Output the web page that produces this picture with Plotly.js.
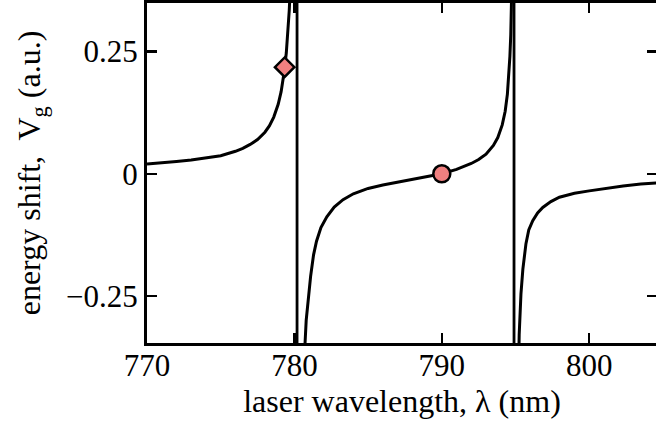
<!DOCTYPE html>
<html>
<head>
<meta charset="utf-8">
<script src="https://cdn.plot.ly/plotly-3.0.1.min.js"></script>
<style>
html, body { margin: 0; padding: 0; overflow: hidden; background: #fff; }
#chart { width: 657px; height: 421px; }
</style>
</head>
<body>
<div id="chart"></div>
<script>
// Branch below the D2 resonance (blue detuned)
const lambdaLeft = [770, 771, 772, 773, 774, 775, 776, 776.5, 777, 777.5, 778, 778.3, 778.6, 778.9, 779.1, 779.3, 779.45, 779.55, 779.65, 779.72, 779.8];
const shiftLeft  = [0.020, 0.022, 0.025, 0.028, 0.032, 0.037, 0.046, 0.052, 0.060, 0.070, 0.085, 0.098, 0.116, 0.142, 0.168, 0.207, 0.247, 0.284, 0.334, 0.380, 0.450];

// Branch between the D2 and D1 resonances
const lambdaMid = [780.5, 780.6, 780.7, 780.8, 780.97, 781.1, 781.3, 781.5, 781.8, 782.2, 782.7, 783.3, 784, 785, 786, 787, 788, 789, 790, 791, 791.5, 792, 792.5, 793, 793.5, 793.8, 794.1, 794.3, 794.45, 794.55, 794.62, 794.68, 794.72, 794.76];
const shiftMid  = [-0.700, -0.480, -0.360, -0.300, -0.246, -0.210, -0.166, -0.138, -0.110, -0.088, -0.068, -0.053, -0.041, -0.030, -0.023, -0.017, -0.011, -0.006, 0.000, 0.009, 0.015, 0.021, 0.029, 0.040, 0.058, 0.074, 0.100, 0.128, 0.163, 0.200, 0.240, 0.285, 0.330, 0.400];

// Branch above the D1 resonance (red detuned)
const lambdaRight = [795.15, 795.2, 795.25, 795.37, 795.5, 795.71, 795.9, 796.17, 796.5, 796.85, 797.4, 797.98, 799, 800, 801, 802.3, 803.5, 805];
const shiftRight  = [-0.500, -0.380, -0.330, -0.246, -0.195, -0.143, -0.115, -0.096, -0.080, -0.069, -0.057, -0.048, -0.040, -0.035, -0.030, -0.025, -0.021, -0.018];

// Resonance lines (D2, D1)
const resonanceLambda = [780.18, 794.9];

// Highlighted points
const diamondLambda = [779.34];
const diamondShift  = [0.218];
const circleLambda  = [790];
const circleShift   = [0.0];

// Ticks
const xTickVals = [770, 780, 790, 800];
const xTickText = ['770', '780', '790', '800'];
const yTickVals = [-0.25, 0, 0.25];
const yTickText = ['\u22120.25', '0', '0.25'];

const FONT = 'Liberation Serif, Times New Roman, serif';
const lineStyle = { color: '#000', width: 3 };

const traces = [
  { x: lambdaLeft, y: shiftLeft, mode: 'lines', line: lineStyle, hoverinfo: 'skip' },
  { x: lambdaMid, y: shiftMid, mode: 'lines', line: lineStyle, hoverinfo: 'skip' },
  { x: lambdaRight, y: shiftRight, mode: 'lines', line: lineStyle, hoverinfo: 'skip' },
  { x: diamondLambda, y: diamondShift, mode: 'markers',
    marker: { symbol: 'diamond', size: 15, color: '#F08080', line: { color: '#000', width: 2.5 } } },
  { x: circleLambda, y: circleShift, mode: 'markers',
    marker: { symbol: 'circle', size: 17, color: '#F08080', line: { color: '#000', width: 2.5 } } }
];

const shapes = resonanceLambda.map(l => ({
  type: 'line', xref: 'x', yref: 'paper', x0: l, x1: l, y0: 0, y1: 1,
  line: { color: '#000', width: 2.8 }, layer: 'below'
}));

const axisCommon = {
  showline: true, linecolor: '#000', linewidth: 3, mirror: 'ticks',
  ticks: 'inside', ticklen: 10, tickwidth: 2.5, tickcolor: '#000',
  showgrid: false, zeroline: false,
  tickfont: { family: FONT, size: 31, color: '#000' }
};

const layout = {
  width: 657, height: 421,
  margin: { l: 147, r: 0, t: 3, b: 78 },
  paper_bgcolor: '#fff', plot_bgcolor: '#fff',
  showlegend: false,
  shapes: shapes,
  xaxis: Object.assign({}, axisCommon, {
    range: [770, 804.6], tickmode: 'array', tickvals: xTickVals, ticktext: xTickText,
    ticklabelstandoff: -7,
    title: { text: 'laser wavelength, \u03bb (nm)', font: { family: FONT, size: 32, color: '#000' }, standoff: 0 }
  }),
  yaxis: Object.assign({}, axisCommon, {
    range: [-0.3463, 0.3494], tickmode: 'array', tickvals: yTickVals, ticktext: yTickText,
    title: { text: 'energy shift,\u00a0 V<sub>g</sub> (a.u.)', font: { family: FONT, size: 32, color: '#000' }, standoff: 16 }
  })
};

Plotly.newPlot('chart', traces, layout, { staticPlot: true, displayModeBar: false });
</script>
</body>
</html>
